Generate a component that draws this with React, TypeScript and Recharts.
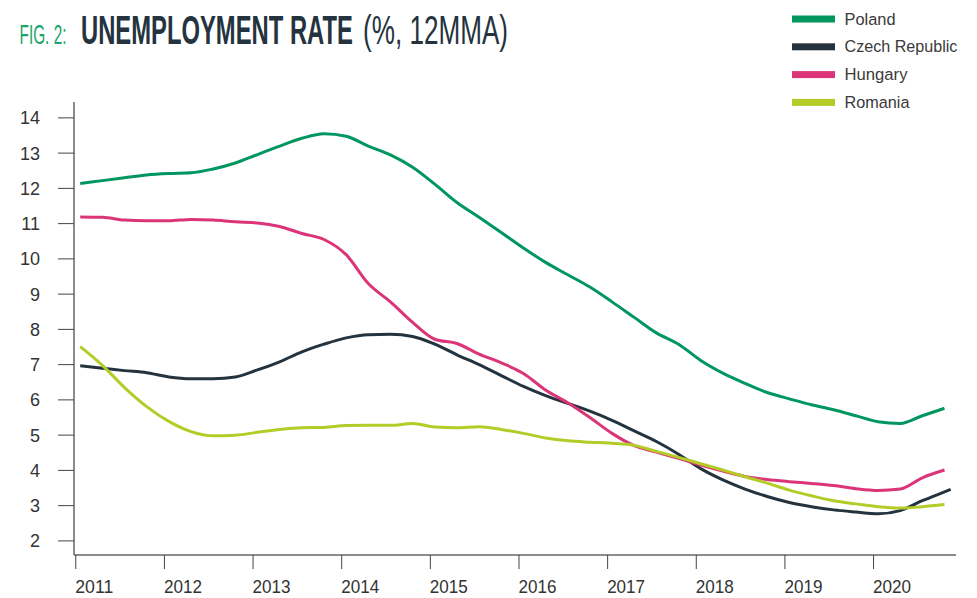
import React, { useLayoutEffect, useRef, useState } from 'react';
import { LineChart, Line, XAxis, YAxis, Legend } from 'recharts';

const periods = [2011.05, 2011.3, 2011.55, 2011.8, 2012.05, 2012.3, 2012.55, 2012.8, 2013.05, 2013.3, 2013.55, 2013.8, 2014.05, 2014.3, 2014.55, 2014.8, 2015.05, 2015.3, 2015.55, 2015.8, 2016.05, 2016.3, 2016.55, 2016.8, 2017.05, 2017.3, 2017.55, 2017.8, 2018.05, 2018.3, 2018.55, 2018.8, 2019.05, 2019.3, 2019.55, 2019.8, 2020.05, 2020.3, 2020.55, 2020.8, 2020.87];

const poland = [12.14, 12.22, 12.3, 12.38, 12.42, 12.44, 12.55, 12.72, 12.96, 13.2, 13.42, 13.55, 13.48, 13.2, 12.95, 12.6, 12.12, 11.6, 11.18, 10.75, 10.31, 9.9, 9.55, 9.2, 8.78, 8.34, 7.9, 7.58, 7.12, 6.76, 6.47, 6.21, 6.03, 5.86, 5.72, 5.55, 5.38, 5.33, 5.55, 5.76, null];
const czech = [6.97, 6.9, 6.83, 6.77, 6.65, 6.6, 6.6, 6.65, 6.85, 7.08, 7.36, 7.58, 7.76, 7.85, 7.86, 7.8, 7.58, 7.28, 7.0, 6.69, 6.38, 6.12, 5.9, 5.68, 5.42, 5.12, 4.82, 4.46, 4.05, 3.73, 3.47, 3.26, 3.09, 2.97, 2.88, 2.82, 2.77, 2.86, 3.14, 3.39, 3.46];
const hungary = [11.19, 11.18, 11.1, 11.08, 11.08, 11.12, 11.1, 11.05, 11.02, 10.92, 10.72, 10.55, 10.12, 9.3, 8.78, 8.2, 7.72, 7.6, 7.3, 7.05, 6.75, 6.28, 5.92, 5.5, 5.05, 4.7, 4.52, 4.34, 4.15, 3.98, 3.83, 3.74, 3.68, 3.63, 3.57, 3.48, 3.43, 3.47, 3.79, 4.01, null];
const romania = [7.51, 6.98, 6.35, 5.81, 5.39, 5.1, 4.98, 5.0, 5.08, 5.16, 5.21, 5.22, 5.27, 5.28, 5.28, 5.33, 5.23, 5.21, 5.24, 5.16, 5.05, 4.92, 4.84, 4.8, 4.77, 4.71, 4.54, 4.37, 4.19, 4.01, 3.82, 3.64, 3.44, 3.28, 3.14, 3.05, 2.97, 2.93, 2.97, 3.03, null];

const xTicks = [2011, 2012, 2013, 2014, 2015, 2016, 2017, 2018, 2019, 2020];
const yTicks = [2, 3, 4, 5, 6, 7, 8, 9, 10, 11, 12, 13, 14];

const seriesNames = ['Poland', 'Czech Republic', 'Hungary', 'Romania'];
const seriesColors = ['#00965f', '#24333e', '#dc3479', '#b4cb28'];
const legendWidths = [51, 113, 63, 65];

const data = periods.map((t, i) => ({
  t,
  Poland: poland[i],
  'Czech Republic': czech[i],
  Hungary: hungary[i],
  Romania: romania[i],
}));

const FONT = "'Liberation Sans', Arial, sans-serif";

// Text squeezed horizontally to a target width (a condensed look), via a measured scale transform.
const FitText = (props: any) => {
  const { x, y, width, children, ...rest } = props;
  const ref = useRef<SVGTextElement>(null);
  const [sx, setSx] = useState(1);
  useLayoutEffect(() => {
    if (ref.current) {
      const w = ref.current.getComputedTextLength();
      if (w > 0) setSx(width / w);
    }
  }, [width, children]);
  return (
    <text ref={ref} x={0} y={0} transform={`translate(${x},${y}) scale(${sx},1)`} {...rest}>
      {children}
    </text>
  );
};

const XTick = (props: any) => {
  const { x, y, payload } = props;
  return (
    <FitText x={x - 0.5} y={y + 24} width={38} textAnchor="start" fontFamily={FONT} fontSize={18} fill="#333">
      {String(payload.value)}
    </FitText>
  );
};

const renderLegend = () => (
  <svg width={197} height={115}>
    {seriesNames.map((n, i) => (
      <g key={n}>
        <rect x={12} y={15.5 + i * 27.8} width={43} height={7} fill={seriesColors[i]} />
        <FitText x={64.5} y={24.5 + i * 27.8} width={legendWidths[i]} fontFamily={FONT} fontSize={17} fill="#3a3a3a">
          {n}
        </FitText>
      </g>
    ))}
  </svg>
);

export default function App() {
  return (
    <div style={{ position: 'absolute', left: 0, top: 0, width: 977, height: 598, background: '#fff' }}>
      <svg width={977} height={60} style={{ position: 'absolute', left: 0, top: 0 }}>
        <FitText x={19.5} y={44} width={47} fontFamily={FONT} fontSize={28} fill="#19a56b">
          FIG. 2:
        </FitText>
        <FitText x={81} y={44} width={272} fontFamily={FONT} fontSize={41} fontWeight="bold" fill="#24333e">
          UNEMPLOYMENT RATE
        </FitText>
        <FitText x={363} y={44} width={145} fontFamily={FONT} fontSize={41} fill="#24333e">
          (%, 12MMA)
        </FitText>
      </svg>
      <LineChart width={977} height={598} data={data} margin={{ top: 102, right: 21, bottom: 0, left: 0 }}>
        <XAxis
          dataKey="t"
          type="number"
          domain={[2010.98, 2020.93]}
          ticks={xTicks}
          allowDataOverflow
          height={43}
          tickSize={14}
          tickMargin={0}
          axisLine={{ stroke: '#666', strokeWidth: 1.5 }}
          tickLine={{ stroke: '#444', strokeWidth: 1 }}
          tick={<XTick />}
        />
        <YAxis
          type="number"
          domain={[1.6, 14.45]}
          ticks={yTicks}
          allowDataOverflow
          width={74}
          tickSize={16}
          tickMargin={18}
          axisLine={{ stroke: '#666', strokeWidth: 1.5 }}
          tickLine={{ stroke: '#444', strokeWidth: 1 }}
          tick={{ fill: '#333', fontSize: 18, fontFamily: FONT }}
        />
        <Legend
          layout="horizontal"
          verticalAlign="middle"
          align="center"
          content={renderLegend}
          wrapperStyle={{ position: 'absolute', left: 780, top: 0, width: 197, height: 115 }}
        />
        {seriesNames.map((n, i) => (
          <Line
            key={n}
            type="monotone"
            dataKey={n}
            stroke={seriesColors[i]}
            strokeWidth={3}
            dot={false}
            activeDot={false}
            isAnimationActive={false}
          />
        ))}
      </LineChart>
    </div>
  );
}
